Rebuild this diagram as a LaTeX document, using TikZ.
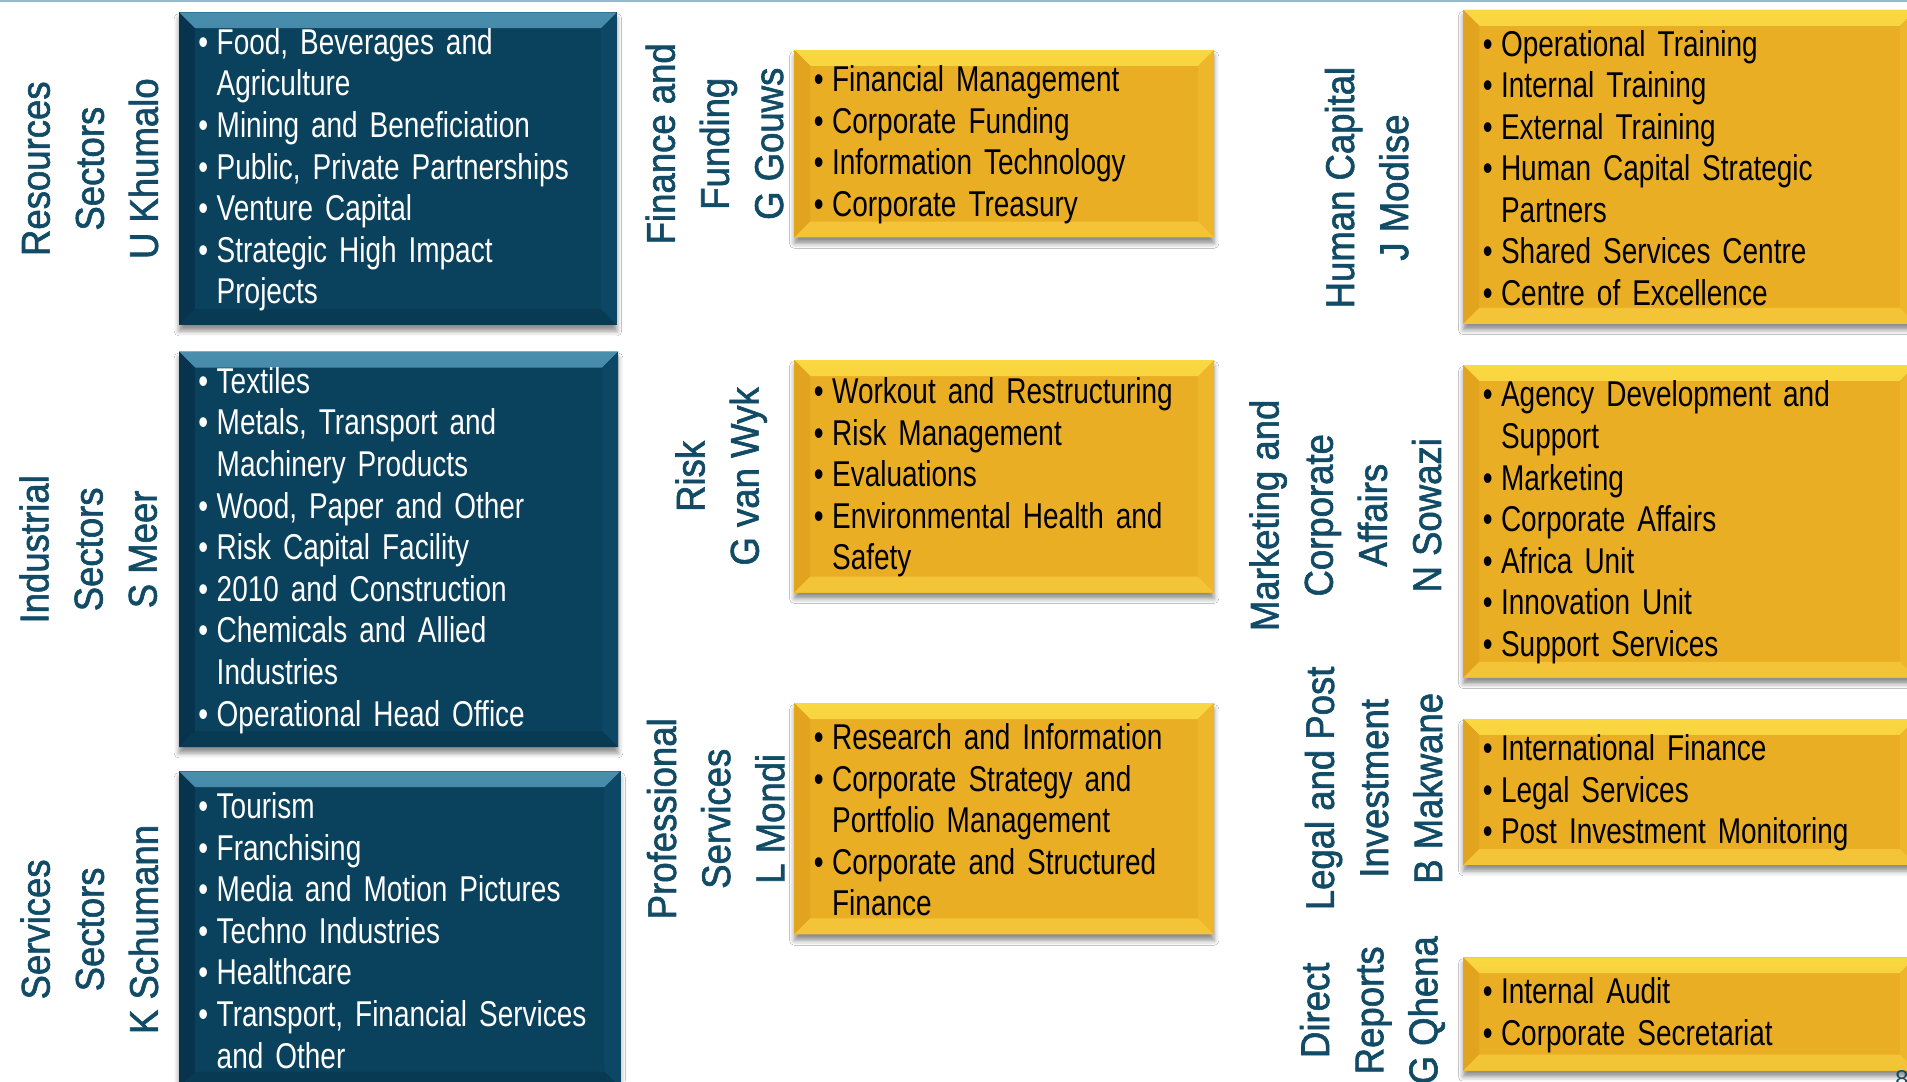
\documentclass[tikz,border=0pt]{standalone}
\usepackage{fontspec}
\setmainfont{Liberation Sans}
\newfontfamily\narrowfont[FakeStretch=0.78, WordSpace=0.8]{Liberation Sans}
\newfontfamily\headfont[FakeStretch=0.91, FakeBold=1.5]{Liberation Sans}
\usetikzlibrary{positioning, shadows.blur}

\definecolor{labelblue}{RGB}{17,75,102}
\definecolor{navyfill}{RGB}{10,66,94}
\definecolor{navytop}{RGB}{74,142,174}
\definecolor{navyleft}{RGB}{7,52,76}
\definecolor{navyright}{RGB}{12,72,102}
\definecolor{navybot}{RGB}{8,58,84}
\definecolor{goldfill}{RGB}{233,174,36}
\definecolor{goldtop}{RGB}{250,216,66}
\definecolor{goldleft}{RGB}{226,163,30}
\definecolor{goldright}{RGB}{238,182,42}
\definecolor{goldbot}{RGB}{244,196,56}
\definecolor{ruleblue}{RGB}{150,185,205}

% bullet line with hanging indent, a forced break inside an item, and the list end
\newcommand\bul{\par\noindent\hangindent=15pt\hangafter=1\hbox to 15pt{\textbullet\hss}}
\newcommand\brk{\hfil\break}
\newcommand\listend{\par\kern11pt}

% bevelled faces: top (shaded), left, right, bottom
\newcommand\bevelfaces[5]{%
  \fill[top color=#1, bottom color=#2]
    (path picture bounding box.north west) -- (path picture bounding box.north east)
    -- ([shift={(-13pt,-13pt)}]path picture bounding box.north east)
    -- ([shift={(13pt,-13pt)}]path picture bounding box.north west) -- cycle;
  \fill[#3]
    (path picture bounding box.north west) -- ([shift={(13pt,-13pt)}]path picture bounding box.north west)
    -- ([shift={(13pt,13pt)}]path picture bounding box.south west) -- (path picture bounding box.south west) -- cycle;
  \fill[#4]
    (path picture bounding box.north east) -- ([shift={(-13pt,-13pt)}]path picture bounding box.north east)
    -- ([shift={(-13pt,13pt)}]path picture bounding box.south east) -- (path picture bounding box.south east) -- cycle;
  \fill[#5]
    (path picture bounding box.south west) -- ([shift={(13pt,13pt)}]path picture bounding box.south west)
    -- ([shift={(-13pt,13pt)}]path picture bounding box.south east) -- (path picture bounding box.south east) -- cycle;
}

\tikzset{itembox/.style={anchor=north west, align=left, inner xsep=16pt, inner ysep=0pt,
  font=\narrowfont\fontsize{29.5}{34.2}\selectfont,
  blur shadow={shadow xshift=0pt, shadow yshift=-5pt, shadow blur radius=4pt, shadow opacity=45}}}
\tikzset{navybox/.style={itembox, fill=navyfill, text=white,
  path picture={\bevelfaces{navytop}{navyfill}{navyleft}{navyright}{navybot}}}}
\tikzset{goldbox/.style={itembox, fill=goldfill, text=black,
  path picture={\bevelfaces{goldtop}{goldfill}{goldleft}{goldright}{goldbot}}}}
% rotated heads: xshift moves them along the page's vertical
\tikzset{headlabel/.style={rotate=90, anchor=south, align=center, inner sep=0pt, text depth=0pt,
  text=labelblue, font=\headfont\fontsize{33}{44.5}\selectfont}}

\begin{document}
\begin{tikzpicture}[x=1pt, y=-1pt]
\useasboundingbox (0,0) rectangle (1568,889);
\fill[white] (0,0) rectangle (1568,889);
\draw[ruleblue, line width=2pt] (0,1) -- (1568,1);

% sector divisions
\node[navybox, minimum width=360pt, minimum height=257pt, text width=328pt] (resbox) at (147,10)
  {\bul Food, Beverages and\brk Agriculture \bul Mining and Beneficiation \bul Public, Private Partnerships
   \bul Venture Capital \bul Strategic High Impact\brk Projects\listend};
\node[navybox, minimum width=361pt, minimum height=325pt, text width=329pt] (indbox) at (147,289)
  {\bul Textiles \bul Metals, Transport and\brk Machinery Products \bul Wood, Paper and Other
   \bul Risk Capital Facility \bul 2010 and Construction \bul Chemicals and Allied\brk Industries
   \bul Operational Head Office\listend};
\node[navybox, minimum width=363pt, minimum height=260pt, text width=331pt] (serbox) at (147,634)
  {\bul Tourism \bul Franchising \bul Media and Motion Pictures \bul Techno Industries
   \bul Healthcare \bul Transport, Financial Services\brk and Other\listend};

\node[headlabel, left=17pt of resbox, anchor=south] (reslabel) {Resources\\Sectors\\U Khumalo};
\node[headlabel, left=18pt of indbox, anchor=south] (indlabel) {Industrial\\Sectors\\S Meer};
\node[headlabel, left=17pt of serbox, anchor=south] (serlabel) {Services\\Sectors\\K Schumann};

% middle column
\node[goldbox, minimum width=345pt, minimum height=154pt, text width=313pt] (finbox) at (653,41)
  {\bul Financial Management \bul Corporate Funding \bul Information Technology
   \bul Corporate Treasury\listend};
\node[goldbox, minimum width=345pt, minimum height=191pt, text width=313pt] (riskbox) at (653,296)
  {\bul Workout and Restructuring \bul Risk Management \bul Evaluations
   \bul Environmental Health and\brk Safety\listend};
\node[goldbox, minimum width=345pt, minimum height=190pt, text width=313pt] (probox) at (653,578)
  {\bul Research and Information \bul Corporate Strategy and\brk Portfolio Management
   \bul Corporate and Structured\brk Finance\listend};

\node[headlabel, left=9pt of finbox, anchor=south] (finlabel) {Finance and\\Funding\\G Gouws};
\node[headlabel, left=29pt of riskbox, anchor=south] (risklabel) {Risk\\G van Wyk};
\node[headlabel, left=8pt of probox, anchor=south] (prolabel) {Professional\\Services\\L Mondi};

% right column
\node[goldbox, minimum width=372pt, minimum height=258pt, text width=340pt] (humbox) at (1203,8)
  {\bul Operational Training \bul Internal Training \bul External Training
   \bul Human Capital Strategic\brk Partners \bul Shared Services Centre
   \bul Centre of Excellence\listend};
\node[goldbox, minimum width=372pt, minimum height=257pt, text width=340pt] (mktbox) at (1203,300)
  {\bul Agency Development and\brk Support \bul Marketing \bul Corporate Affairs \bul Africa Unit
   \bul Innovation Unit \bul Support Services\listend};
\node[goldbox, minimum width=372pt, minimum height=120pt, text width=340pt] (legbox) at (1203,591)
  {\bul International Finance \bul Legal Services \bul Post Investment Monitoring\listend};
\node[goldbox, minimum width=372pt, minimum height=93pt, text width=340pt] (dirbox) at (1203,787)
  {\bul Internal Audit \bul Corporate Secretariat\listend};

\node[headlabel, left=45pt of humbox, anchor=south, xshift=-17pt] (humlabel) {Human Capital\\J Modise};
\node[headlabel, left=18pt of mktbox, anchor=south, xshift=5pt] (mktlabel) {Marketing and\\Corporate\\Affairs\\N Sowazi};
\node[headlabel, left=17pt of legbox, anchor=south, xshift=3pt] (leglabel) {Legal and Post\\Investment\\B Makwane};
\node[headlabel, left=21pt of dirbox, anchor=south, xshift=3pt] (dirlabel) {Direct\\Reports\\G Qhena};

\node[anchor=north west, inner sep=0pt, text=labelblue, font=\fontsize{20}{24}\selectfont] (pagenum) at (1558,880) {8};
\end{tikzpicture}
\end{document}
